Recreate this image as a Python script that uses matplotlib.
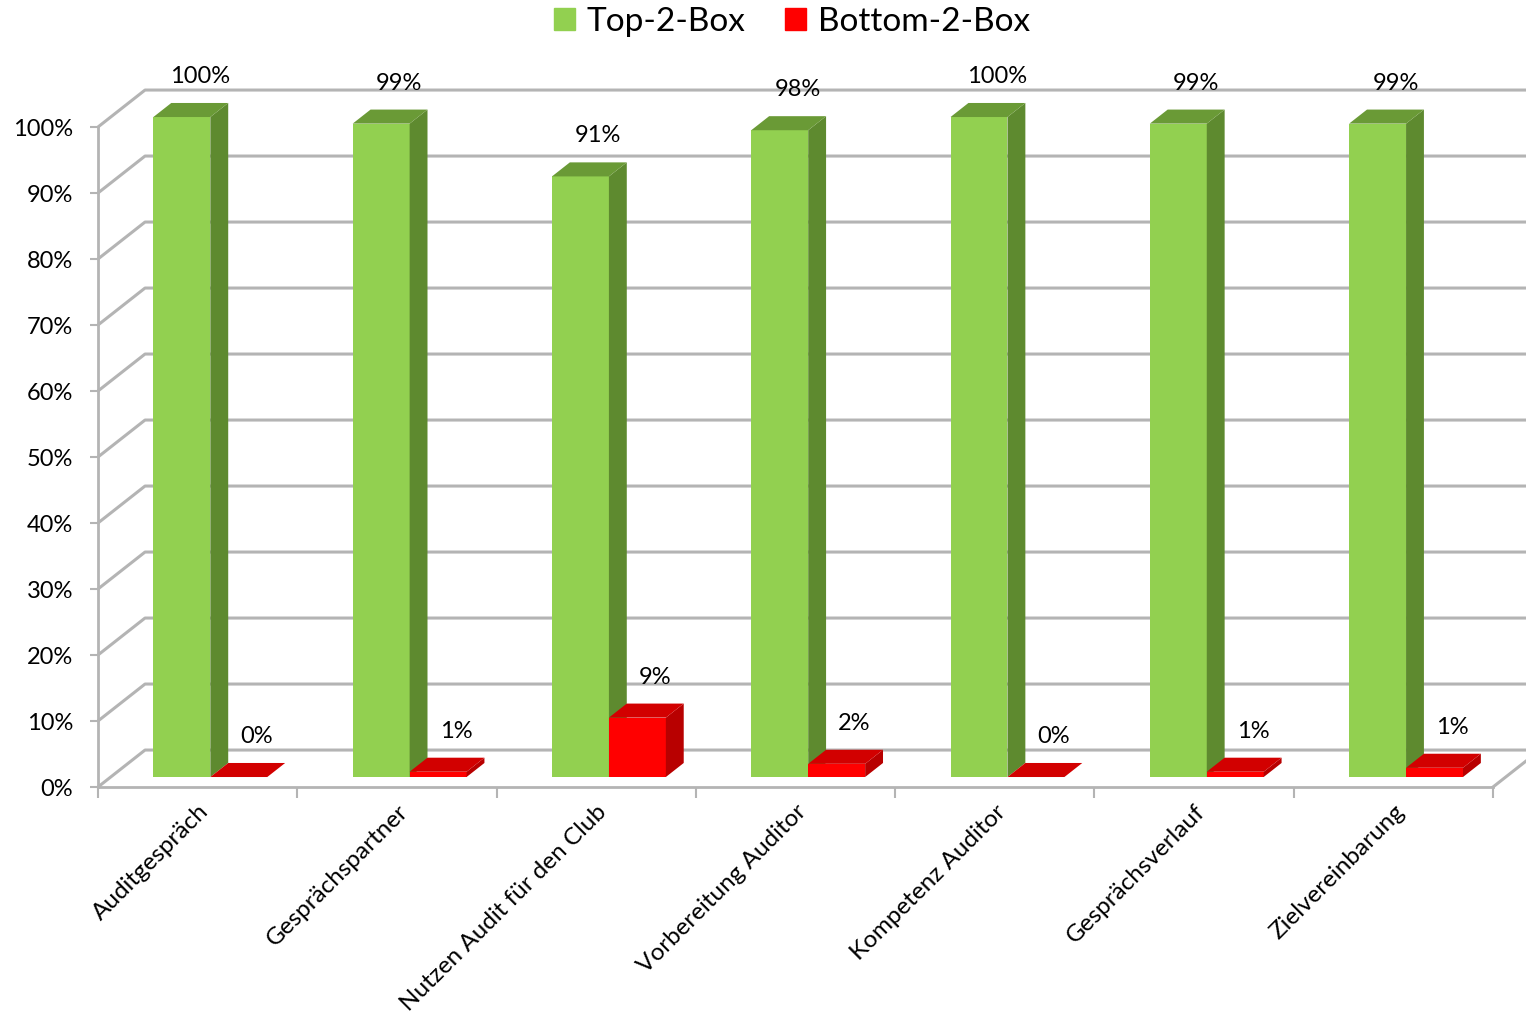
import matplotlib.pyplot as plt
from matplotlib.patches import Polygon, Patch
import numpy as np

plt.rcParams['font.family'] = ['Lato', 'DejaVu Sans']

categories = ['Auditgespräch', 'Gesprächspartner', 'Nutzen Audit für den Club',
              'Vorbereitung Auditor', 'Kompetenz Auditor', 'Gesprächsverlauf',
              'Zielvereinbarung']
series = ['Top-2-Box', 'Bottom-2-Box']
top2 = [100, 99, 91, 98, 100, 99, 99]
bottom2 = [0, 0.8, 9, 2, 0, 0.8, 1.4]
yticks = [0, 10, 20, 30, 40, 50, 60, 70, 80, 90, 100]

# front, side, top colours of the boxes
colors = [('#92D050', '#5E8A2F', '#6A9A36'),
          ('#FF0000', '#B80000', '#D20000')]
grid = '#B4B4B4'

fig = plt.figure(figsize=(15.26, 10.21), dpi=100)
ax = fig.add_axes([98/1526, 234/1021, 1395/1526, 660/1021])
ax.set_xlim(0, 7)
ax.set_ylim(0, 100)
ax.set_facecolor('none')

# fake 3d: depth of the back wall in data units, bars sit in the middle
dx, dy = 0.236, 5.6
z0, z1 = 0.27, 0.65
w = 1/3.5
gap = 0.75*w
n = len(categories)

# back wall, left wall and floor
for v in yticks:
    ax.plot([0, dx, n+dx+0.5], [v, v+dy, v+dy], color=grid, lw=2.2,
            clip_on=False, zorder=1, solid_capstyle='butt')
ax.plot([n, n+dx], [0, dy], color=grid, lw=2.2, clip_on=False, zorder=1)

def box(x0, h, cols):
    fx = x0 + z0*dx
    fy = z0*dy
    bx = (z1-z0)*dx
    by = (z1-z0)*dy
    ax.bar(fx, h, width=w, bottom=fy, align='edge', color=cols[0],
           clip_on=False, zorder=3, linewidth=0)
    side = [(fx+w, fy), (fx+w+bx, fy+by), (fx+w+bx, fy+by+h), (fx+w, fy+h)]
    top = [(fx, fy+h), (fx+w, fy+h), (fx+w+bx, fy+h+by), (fx+bx, fy+h+by)]
    ax.add_patch(Polygon(side, closed=True, color=cols[1], lw=0, clip_on=False, zorder=3))
    ax.add_patch(Polygon(top, closed=True, color=cols[2], lw=0, clip_on=False, zorder=3))
    ax.text(fx + w/2 + bx, fy + h + by + 4.0, '{:.0f}%'.format(h),
            ha='center', va='center', fontsize=17, zorder=5)

for i in range(n):
    box(i + gap, top2[i], colors[0])
    box(i + gap + w, bottom2[i], colors[1])

ax.set_yticks(yticks)
ax.set_yticklabels(['{}%'.format(v) for v in yticks])
ax.tick_params(axis='y', length=6, width=1.5, color=grid, pad=12, labelsize=17)
ax.set_xticks(np.arange(n) + 0.5)
ax.set_xticklabels(categories, rotation=45, ha='right', rotation_mode='anchor')
ax.tick_params(axis='x', which='major', length=0, pad=10, labelsize=17.5)
ax.set_xticks(np.arange(n+1), minor=True)
ax.tick_params(axis='x', which='minor', length=8, width=1.5, color=grid)
for s in ['top', 'right']:
    ax.spines[s].set_visible(False)
for s in ['left', 'bottom']:
    ax.spines[s].set_color(grid)
    ax.spines[s].set_linewidth(2)

handles = [Patch(color=colors[0][0]), Patch(color=colors[1][0])]
fig.legend(handles, series, loc='center', bbox_to_anchor=(792/1526, 1 - 22/1021),
           ncol=2, frameon=False, fontsize=24, handlelength=0.62, handleheight=0.62,
           handletextpad=0.35, columnspacing=1.2)

fig.savefig('out.png', dpi=100)
